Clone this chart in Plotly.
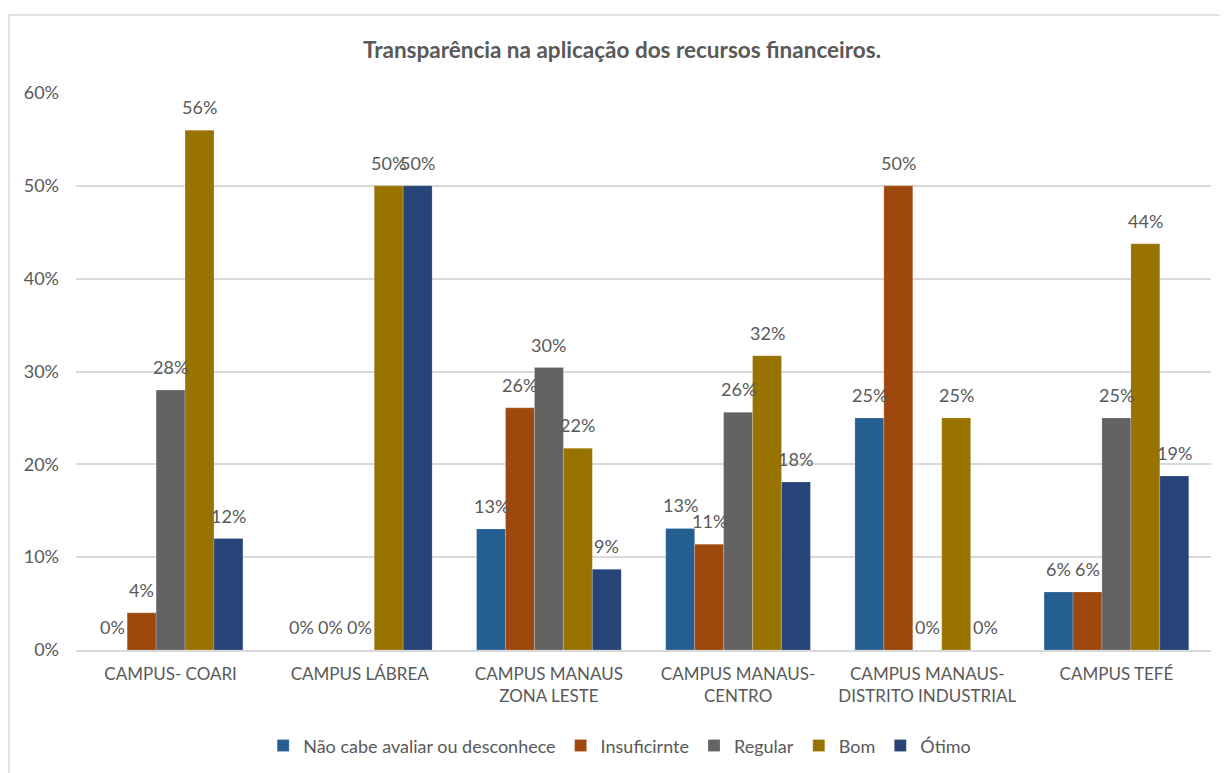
import plotly.graph_objects as go

campus = ["CAMPUS- COARI", "CAMPUS LÁBREA", "CAMPUS MANAUS<br>ZONA LESTE",
          "CAMPUS MANAUS-<br>CENTRO", "CAMPUS MANAUS-<br>DISTRITO INDUSTRIAL", "CAMPUS TEFÉ"]

nao_cabe = [0, 0, 13.04, 13.1, 25, 6.25]
insuficiente = [4, 0, 26.09, 11.4, 50, 6.25]
regular = [28, 0, 30.43, 25.6, 0, 25]
bom = [56, 50, 21.74, 31.7, 25, 43.75]
otimo = [12, 50, 8.7, 18.1, 0, 18.75]

series = [
    ("Não cabe avaliar ou desconhece", nao_cabe, "#255E91"),
    ("Insuficirnte", insuficiente, "#9E480E"),
    ("Regular", regular, "#636363"),
    ("Bom", bom, "#997300"),
    ("Ótimo", otimo, "#264478"),
]

txt = "#595959"
fnt = "Lato, 'Open Sans', sans-serif"

W, H = 1228, 773
ml, mr, mt, mb = 68, 25, 85, 131  # a página tem margem de 8px, margens compensadas
gap = 0.235
bw = (W - ml - mr) / len(campus) * (1 - gap) / len(series)  # largura de cada barra em px

fig = go.Figure()
for i, (nome, vals, cor) in enumerate(series):
    fig.add_trace(go.Bar(
        x=campus, y=vals, name=nome,
        marker=dict(color=cor, line=dict(color="rgba(255,255,255,0.4)", width=0.5)),
    ))
    # rótulos de dados um pouco acima das barras, como no Excel
    for c, v in zip(campus, vals):
        fig.add_annotation(x=c, y=v, text=f"{round(v):.0f}%", showarrow=False,
                           xshift=(i - 2) * bw, yshift=23, yanchor="middle",
                           font=dict(size=18, color=txt, family=fnt))

fig.update_layout(
    width=W, height=H,
    paper_bgcolor="white", plot_bgcolor="white",
    margin=dict(l=ml, r=mr, t=mt, b=mb),
    barmode="group", bargap=gap, bargroupgap=0,
    title=dict(text="<b>Transparência na aplicação dos recursos financeiros.</b>",
               x=0.5, xanchor="center", y=0.946, yanchor="middle",
               font=dict(size=22.5, color=txt, family=fnt)),
    font=dict(family=fnt, color=txt),
    legend=dict(orientation="h", x=0.479, xanchor="center", y=-0.172, yanchor="middle",
                font=dict(size=18, color=txt), itemwidth=30, tracegroupgap=0),
    showlegend=True,
)
fig.update_yaxes(range=[0, 60], dtick=10, ticksuffix="%", showgrid=True,
                 gridcolor="#D9D9D9", gridwidth=1.5, zeroline=False,
                 showline=False, tickfont=dict(size=18, color=txt), ticks="",
                 ticklabelstandoff=16)
fig.update_xaxes(showline=True, linecolor="#D9D9D9", linewidth=1.5, ticks="",
                 tickfont=dict(size=17, color=txt), ticklabelstandoff=8)

# moldura do gráfico
fig.add_shape(type="rect", xref="paper", yref="paper",
              x0=-0.0590, x1=1.05, y0=-0.3, y1=1.14,
              line=dict(color="#D9D9D9", width=1.5), layer="below")

fig.write_html("out.html")
